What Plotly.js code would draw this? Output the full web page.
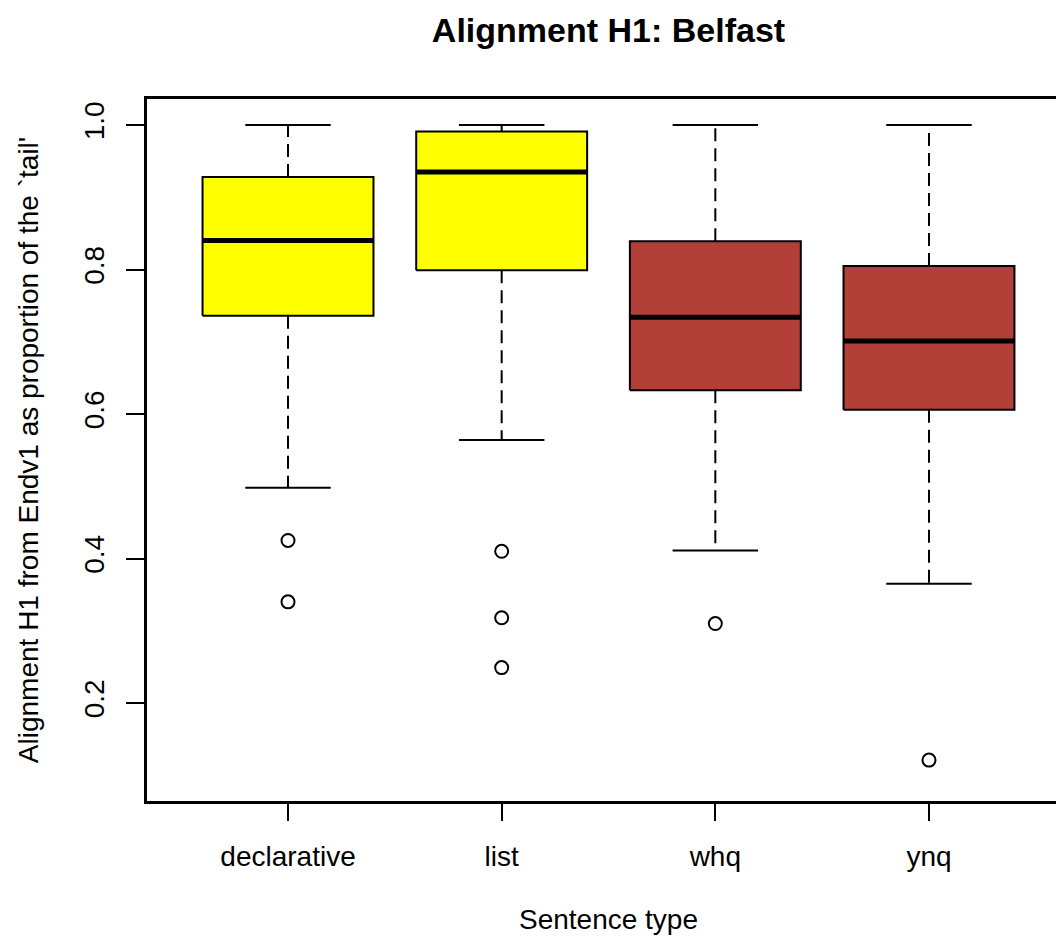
<!DOCTYPE html>
<html>
<head>
<meta charset="utf-8">
<script src="https://cdn.plot.ly/plotly-3.0.1.min.js"></script>
<style>
html, body { margin: 0; padding: 0; overflow: hidden; background: #fff; }
#chart { width: 1090px; height: 938px; }
</style>
</head>
<body>
<div id="chart"></div>
<script>
// ---- data ----
const categories = ["declarative", "list", "whq", "ynq"];
const lowerWhisker = [0.498, 0.564, 0.411, 0.365];
const q1 = [0.736, 0.799, 0.633, 0.606];
const median = [0.840, 0.935, 0.734, 0.701];
const q3 = [0.928, 0.991, 0.839, 0.805];
const upperWhisker = [1.0, 1.0, 1.0, 1.0];
const outliers = [[0.425, 0.340], [0.410, 0.318, 0.249], [0.310], [0.121]];
const boxColors = ["#FFFF00", "#FFFF00", "#B33F39", "#B33F39"];
const yTicks = [0.2, 0.4, 0.6, 0.8, 1.0];

const halfBox = 0.4, halfCap = 0.2;
const traces = [];

categories.forEach((c, i) => {
  const x = i + 1;
  // whiskers (dashed)
  traces.push({
    type: "scatter", mode: "lines", hoverinfo: "skip", showlegend: false,
    x: [x, x, null, x, x],
    y: [q3[i], upperWhisker[i], null, q1[i], lowerWhisker[i]],
    line: { color: "#000", width: 2, dash: "13px,7px" }
  });
  // caps
  traces.push({
    type: "scatter", mode: "lines", hoverinfo: "skip", showlegend: false,
    x: [x - halfCap, x + halfCap, null, x - halfCap, x + halfCap],
    y: [upperWhisker[i], upperWhisker[i], null, lowerWhisker[i], lowerWhisker[i]],
    line: { color: "#000", width: 2 }
  });
  // box
  traces.push({
    type: "scatter", mode: "lines", hoverinfo: "skip", showlegend: false,
    x: [x - halfBox, x + halfBox, x + halfBox, x - halfBox, x - halfBox],
    y: [q1[i], q1[i], q3[i], q3[i], q1[i]],
    fill: "toself", fillcolor: boxColors[i],
    line: { color: "#000", width: 2 }
  });
  // median
  traces.push({
    type: "scatter", mode: "lines", hoverinfo: "skip", showlegend: false,
    x: [x - halfBox, x + halfBox],
    y: [median[i], median[i]],
    line: { color: "#000", width: 5 }
  });
  // outliers
  traces.push({
    type: "scatter", mode: "markers", showlegend: false,
    x: outliers[i].map(() => x),
    y: outliers[i],
    marker: { symbol: "circle-open", size: 13, color: "#000", line: { width: 2, color: "#000" } }
  });
});

const font = "Liberation Sans, Arial, Helvetica, sans-serif";

const layout = {
  width: 1090, height: 938,
  margin: { l: 147, r: 20, t: 99, b: 137 },
  paper_bgcolor: "#fff", plot_bgcolor: "#fff",
  font: { family: font, size: 28, color: "#000" },
  title: {
    text: "<b>Alignment H1: Belfast</b>",
    font: { family: font, size: 34, color: "#000" },
    x: 0.5, xref: "paper", xanchor: "center",
    y: 1 - 30 / 938, yref: "container", yanchor: "middle"
  },
  xaxis: {
    range: [0.34, 4.66],
    tickmode: "array", tickvals: categories.map((c, i) => i + 1), ticktext: categories,
    ticks: "outside", ticklen: 17, tickwidth: 2, tickcolor: "#000",
    showline: true, linewidth: 3, linecolor: "#000", mirror: true,
    showgrid: false, zeroline: false,
    tickfont: { family: font, size: 28, color: "#000" },
    ticklabelstandoff: 11,
    title: { text: "Sentence type", font: { family: font, size: 28, color: "#000" }, standoff: 39 }
  },
  yaxis: {
    range: [0.0644, 1.036],
    tickmode: "array", tickvals: yTicks, ticktext: yTicks.map(v => v.toFixed(1)),
    tickangle: -90,
    ticks: "outside", ticklen: 18, tickwidth: 2, tickcolor: "#000",
    showline: true, linewidth: 3, linecolor: "#000", mirror: true,
    showgrid: false, zeroline: false,
    tickfont: { family: font, size: 28, color: "#000" },
    ticklabelstandoff: 11,
    title: { text: "Alignment H1 from Endv1 as proportion of the `tail'", font: { family: font, size: 28, color: "#000" }, standoff: 32 }
  }
};

Plotly.newPlot("chart", traces, layout, { displayModeBar: false, staticPlot: true });
</script>
</body>
</html>
